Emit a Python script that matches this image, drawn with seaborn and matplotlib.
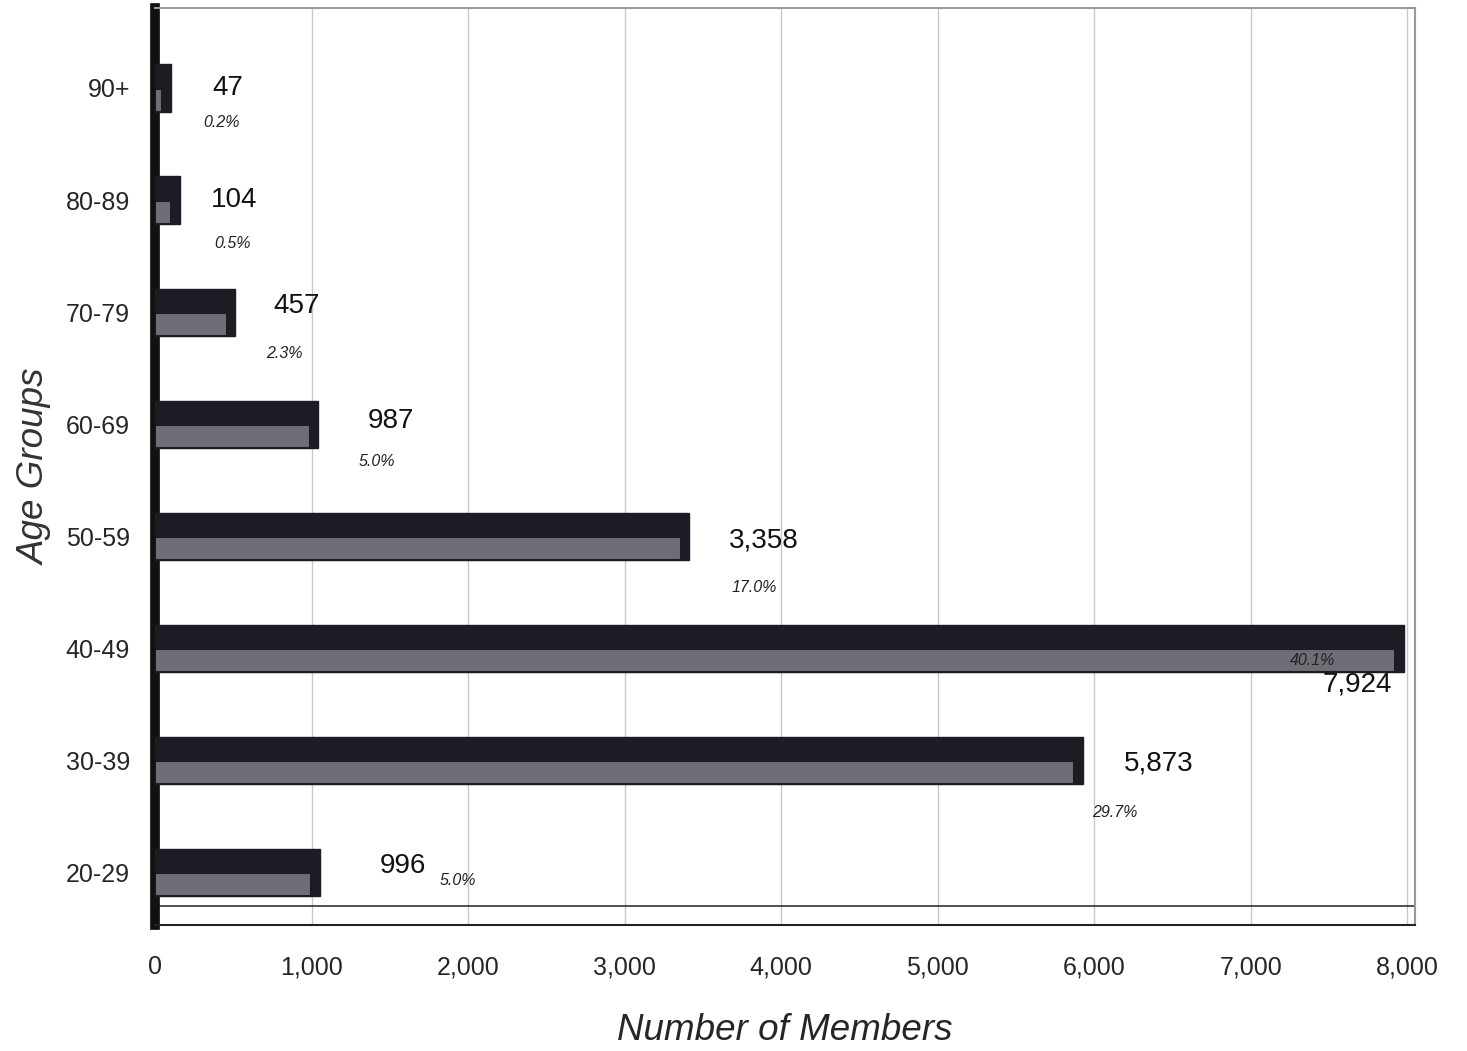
import pandas as pd
import matplotlib.pyplot as plt
import seaborn as sns

age_groups = ["90+", "80-89", "70-79", "60-69", "50-59", "40-49", "30-39", "20-29"]
members = [47, 104, 457, 987, 3358, 7924, 5873, 996]
percent_labels = ["0.2%", "0.5%", "2.3%", "5.0%", "17.0%", "40.1%", "29.7%", "5.0%"]
x_ticks = [0, 1000, 2000, 3000, 4000, 5000, 6000, 7000, 8000]

# label placement (offsets from bar end in data units, rows in category units)
NUM_DX = [420, 400, 450, 520, 530, -240, 540, 590]
NUM_DY = [0.0, 0.0, -0.05, -0.03, 0.04, 0.32, 0.03, -0.06]
PCT_DX = [380, 390, 370, 430, 470, -530, 260, 940]
PCT_DY = [0.31, 0.39, 0.37, 0.33, 0.46, 0.11, 0.47, 0.07]

df = pd.DataFrame({"age": age_groups, "members": members})

sns.set_style("white")
plt.rcParams["font.family"] = ["Liberation Sans", "DejaVu Sans"]

fig = plt.figure(figsize=(14.67, 10.51), dpi=100)
ax = fig.add_axes([0.1057, 0.12, 0.8589, 0.8724])

# dark top face of each bar (reaches a little past the front for a 3D look)
sns.barplot(data=df, y="age", x="members", order=age_groups, orient="h",
            color="#1c1c24", saturation=1, width=0.42, ax=ax, zorder=3,
            edgecolor="#1c1c24", linewidth=1)
for patch in ax.patches:
    patch.set_width(patch.get_width() + 55)

# lighter front face
pos = list(range(len(age_groups)))
ax.barh([p + 0.11 for p in pos], members, height=0.21,
        color="#6e6e76", edgecolor="#1c1c24", linewidth=1.5, zorder=4)

for i, (v, pct) in enumerate(zip(members, percent_labels)):
    ax.text(v + NUM_DX[i], i + NUM_DY[i], f"{v:,}", ha="center", va="center",
            fontsize=20, color="#111111", zorder=5)
    ax.text(v + PCT_DX[i], i + PCT_DY[i], pct, ha="center", va="center",
            fontsize=11.5, style="italic", color="#222222", zorder=5)

ax.set_xlim(0, 8050)
ax.set_ylim(7.47, -0.714)
ax.set_xticks(x_ticks)
ax.set_xticklabels([f"{t:,}" for t in x_ticks], fontsize=18)
ax.tick_params(axis="x", length=6, pad=16, color="#333333")
ax.tick_params(axis="y", length=0, pad=18, labelsize=18)
ax.xaxis.grid(True, color="#c8c8c8", linewidth=1)
ax.set_axisbelow(True)

# floor line behind the front edge
ax.axhline(7.3, color="#333333", linewidth=1.2, zorder=2)

ax.spines["left"].set_linewidth(7)
ax.spines["left"].set_color("#111111")
ax.spines["bottom"].set_linewidth(1.5)
ax.spines["bottom"].set_color("#222222")
for side in ["top", "right"]:
    ax.spines[side].set_linewidth(1.5)
    ax.spines[side].set_color("#9a9a9a")

ax.set_xlabel("Number of Members", fontsize=26.5, style="italic", labelpad=24)
ax.set_ylabel("Age Groups", fontsize=26.5, style="italic", labelpad=9, color="#333333")

fig.savefig("out.png", dpi=100)
